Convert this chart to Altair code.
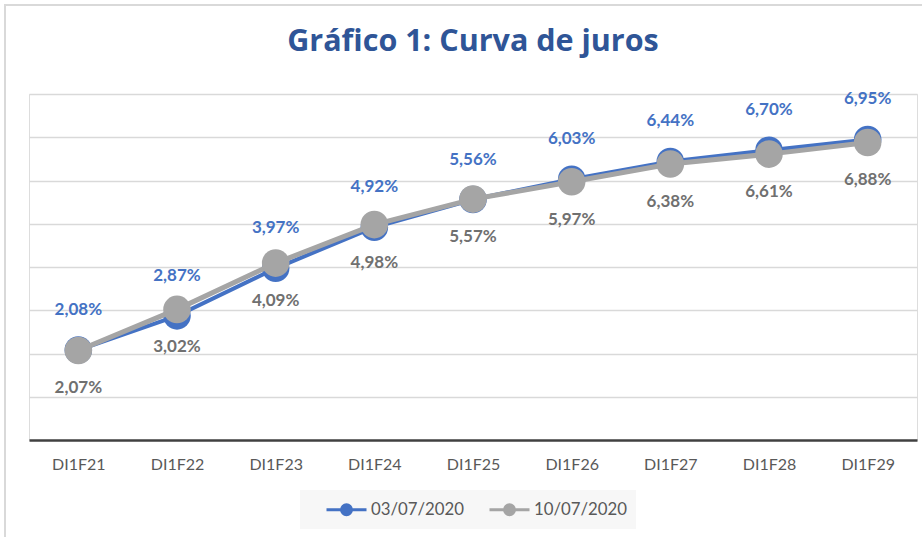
import altair as alt
import pandas as pd

categories = ["DI1F21", "DI1F22", "DI1F23", "DI1F24", "DI1F25", "DI1F26", "DI1F27", "DI1F28", "DI1F29"]
series_names = ["03/07/2020", "10/07/2020"]
values_0307 = [2.08, 2.87, 3.97, 4.92, 5.56, 6.03, 6.44, 6.70, 6.95]
values_1007 = [2.07, 3.02, 4.09, 4.98, 5.57, 5.97, 6.38, 6.61, 6.88]

BLUE = "#4472C4"
GRAY = "#A5A5A5"

def fmt(v):
    return f"{v:.2f}".replace(".", ",") + "%"

rows = []
for s, vals in zip(series_names, [values_0307, values_1007]):
    for c, v in zip(categories, vals):
        rows.append({"cat": c, "serie": s, "valor": v, "rotulo": fmt(v)})
df = pd.DataFrame(rows)

W, H = 888, 346

x_enc = alt.X("cat:N", sort=categories,
              scale=alt.Scale(type="point", padding=0.5),
              axis=alt.Axis(title=None, labelAngle=0, ticks=False, domainColor="#404040",
                            domainWidth=2.5, labelFontSize=16, labelColor="#595959",
                            labelFont="Lato", labelPadding=16, grid=False))
y_enc = alt.Y("valor:Q", scale=alt.Scale(domain=[0, 8], nice=False, zero=True),
              axis=alt.Axis(title=None, labels=False, ticks=False, domain=False,
                            values=[1, 2, 3, 4, 5, 6, 7, 8], grid=True,
                            gridColor="#d9d9d9", gridWidth=1.5))
color_enc = alt.Color("serie:N", scale=alt.Scale(domain=series_names, range=[BLUE, GRAY]),
                      legend=alt.Legend(title=None, orient="none", legendX=271, legendY=396,
                                        direction="horizontal", fillColor="#f7f7f7",
                                        padding=8, labelFontSize=16.8, labelColor="#595959",
                                        labelFont="Lato", columnPadding=6,
                                        symbolType="M0.7,0L4.7,0M2.2,0A0.5,0.5 0 1,1 3.2,0A0.5,0.5 0 1,1 2.2,0",
                                        symbolSize=400, symbolStrokeWidth=3,
                                        labelOffset=40))

def series_layers(name, lw):
    d = df[df["serie"] == name]
    base = alt.Chart(d).encode(x=x_enc, y=y_enc, color=color_enc)
    line = base.mark_line(strokeWidth=lw)
    pts = base.mark_circle(size=760, opacity=1)
    return line, pts

bl, bp = series_layers(series_names[0], 4)
gl, gp = series_layers(series_names[1], 5)

lab_blue = alt.Chart(df[df["serie"] == series_names[0]]).mark_text(
    dy=-40, fontSize=17, fontWeight="bold", font="Lato", color=BLUE
).encode(x=x_enc, y=y_enc, text="rotulo:N")
lab_gray = alt.Chart(df[df["serie"] == series_names[1]]).mark_text(
    dy=38, fontSize=17, fontWeight="bold", font="Lato", color="#707070"
).encode(x=x_enc, y=y_enc, text="rotulo:N")

border = alt.Chart(pd.DataFrame({"k": [0]})).mark_rect(
    fill=None, stroke="#d9d9d9", strokeWidth=2
).encode(x=alt.value(-24), x2=alt.value(W + 60), y=alt.value(-89), y2=alt.value(H + 160))

chart = alt.layer(border, bl, bp, gl, gp, lab_blue, lab_gray).properties(
    width=W, height=H,
    title=alt.TitleParams("Gráfico 1: Curva de juros", fontSize=30.5, font="Open Sans",
                          fontWeight="bold", color="#2F5597", anchor="middle",
                          offset=0, dy=53),
    padding={"left": 29, "top": 94, "right": 5, "bottom": 97},
    autosize=alt.AutoSizeParams(type="none"),
).configure_view(stroke=None).configure(background="white")

chart.save("out.html", embed_options={"renderer": "svg", "actions": False})
